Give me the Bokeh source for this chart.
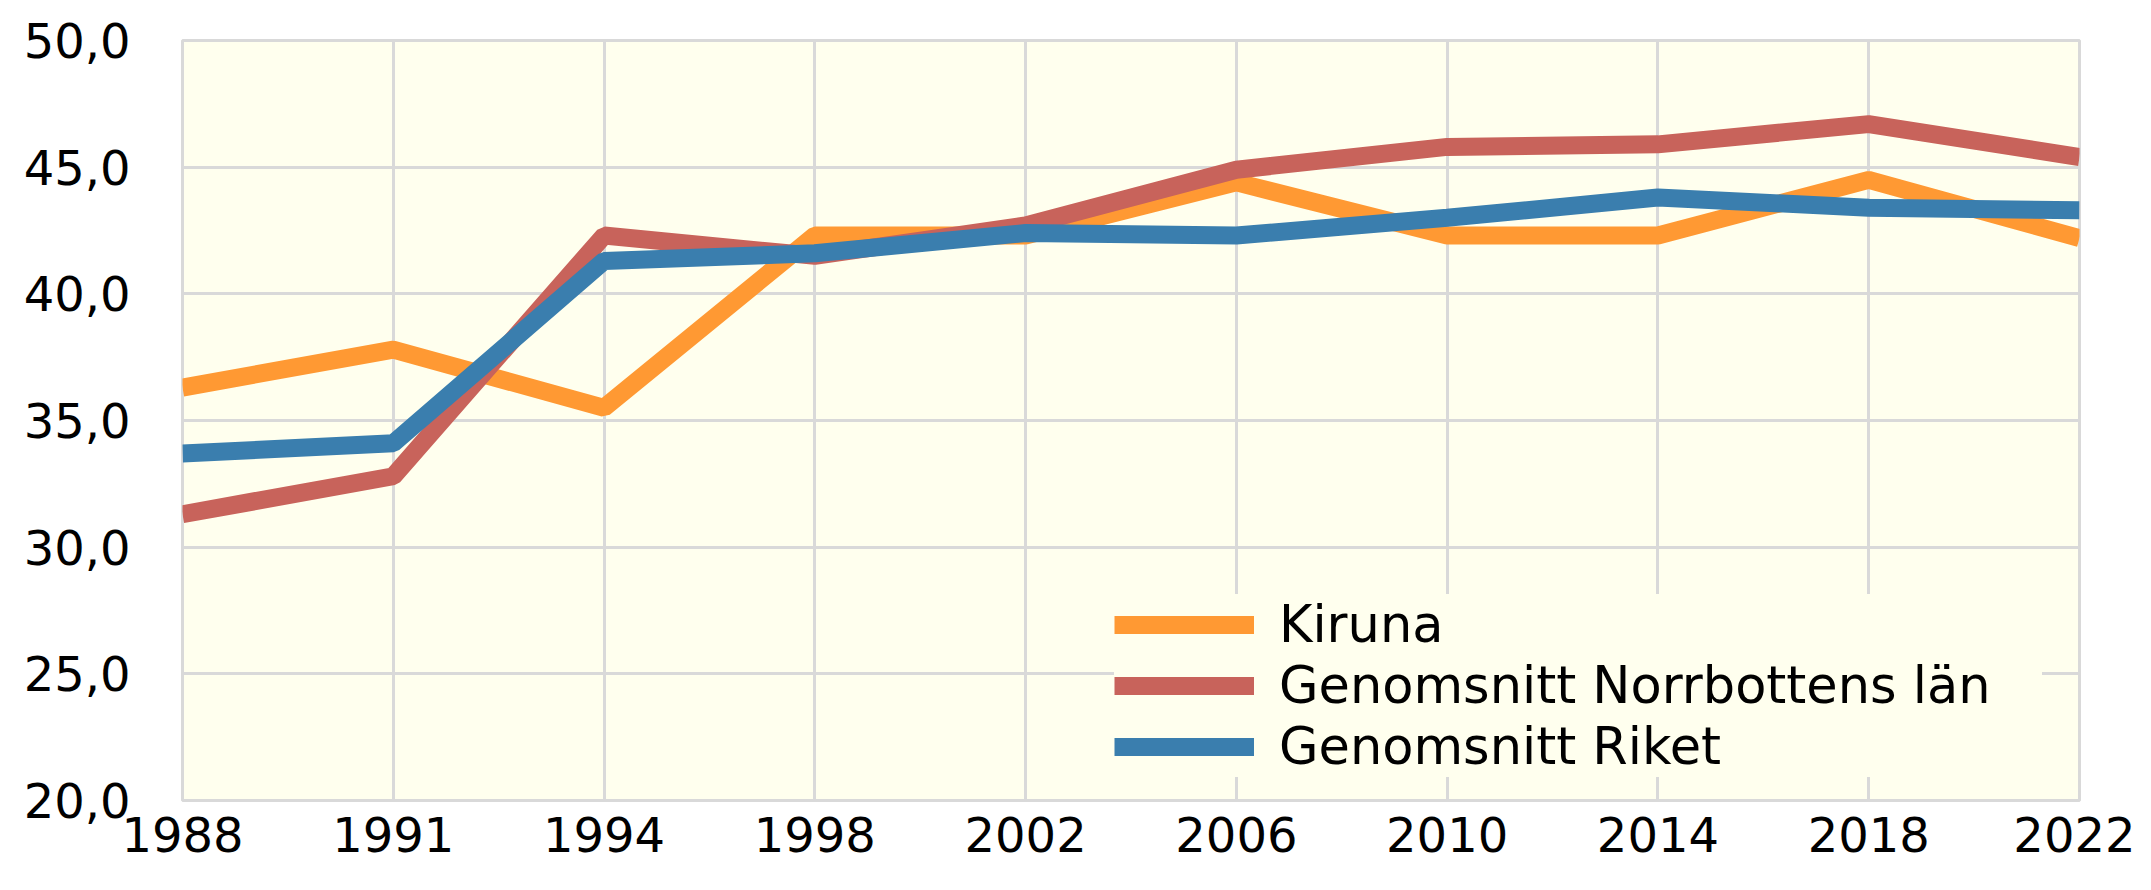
from bokeh.plotting import figure
from bokeh.models import Range1d, FixedTicker, Legend, LegendItem
from bokeh.embed import file_html
from bokeh.resources import INLINE

years = ["1988", "1991", "1994", "1998", "2002", "2006", "2010", "2014", "2018", "2022"]
kiruna = [36.3, 37.8, 35.5, 42.3, 42.3, 44.4, 42.3, 42.3, 44.5, 42.2]
norrbotten = [31.3, 32.8, 42.3, 41.5, 42.7, 44.9, 45.8, 45.9, 46.7, 45.4]
riket = [33.7, 34.1, 41.3, 41.6, 42.4, 42.3, 43.0, 43.8, 43.4, 43.3]
series_names = ["Kiruna", "Genomsnitt Norrbottens län", "Genomsnitt Riket"]
y_ticks = [20, 25, 30, 35, 40, 45, 50]
y_tick_labels = ["20,0", "25,0", "30,0", "35,0", "40,0", "45,0", "50,0"]

colors = ["#FF9933", "#C8635B", "#3A7EAE"]
FONT = "DejaVu Sans"

xs = list(range(len(years)))

p = figure(width=2135, height=874, output_backend="svg", toolbar_location=None,
           x_range=Range1d(0, len(years) - 1), y_range=Range1d(20, 50),
           min_border_left=182, min_border_right=56, min_border_top=40, min_border_bottom=74)

p.background_fill_color = "#FFFFEE"
p.border_fill_color = "white"
p.outline_line_color = "#D9D9D9"
p.outline_line_width = 3

p.xgrid.grid_line_color = "#D9D9D9"
p.xgrid.grid_line_width = 3
p.ygrid.grid_line_color = "#D9D9D9"
p.ygrid.grid_line_width = 3

p.xaxis.ticker = FixedTicker(ticks=xs)
p.xaxis.major_label_overrides = {i: y for i, y in zip(xs, years)}
p.yaxis.ticker = FixedTicker(ticks=y_ticks)
p.yaxis.major_label_overrides = {t: l for t, l in zip(y_ticks, y_tick_labels)}

for ax in (p.xaxis, p.yaxis):
    ax.axis_line_color = None
    ax.major_tick_line_color = None
    ax.minor_tick_line_color = None
    ax.major_tick_out = 0
    ax.major_tick_in = 0
    ax.major_label_text_font = FONT
    ax.major_label_text_font_size = "48px"
    ax.major_label_text_color = "#000000"

p.xaxis.major_label_standoff = 16
p.yaxis.major_label_standoff = 52

renderers = []
for vals, c in zip([kiruna, norrbotten, riket], colors):
    r = p.line(xs, vals, line_color=c, line_width=18)
    renderers.append(r)

legend = Legend(items=[LegendItem(label=n, renderers=[r]) for n, r in zip(series_names, renderers)],
                location=(932, 23))
legend.background_fill_color = "#FFFFEE"
legend.background_fill_alpha = 1.0
legend.border_line_color = None
legend.padding = 0
legend.margin = 0
legend.spacing = 0
legend.glyph_width = 140
legend.glyph_height = 61
legend.label_height = 61
legend.label_width = 763
legend.label_standoff = 25
legend.label_text_font = FONT
legend.label_text_font_size = "51px"
legend.label_text_color = "#000000"
legend.label_text_baseline = "middle"
p.add_layout(legend, "center")

open("out.html", "w").write(file_html(p, INLINE))
